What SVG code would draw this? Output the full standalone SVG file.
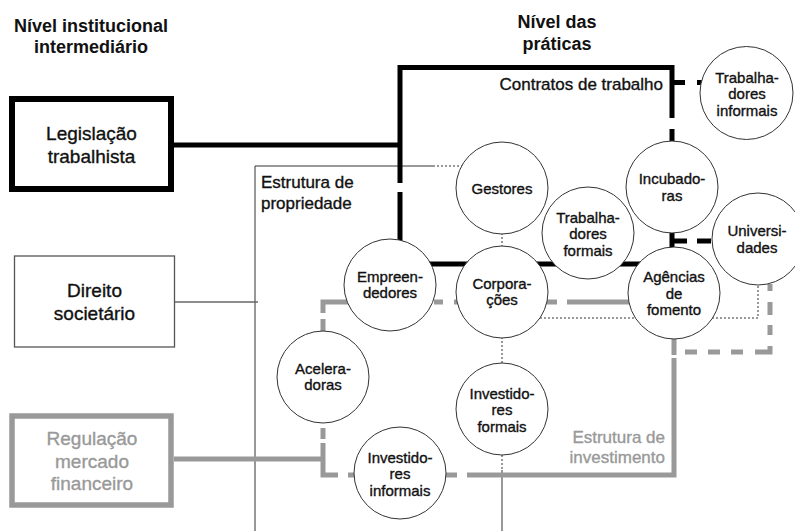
<svg xmlns="http://www.w3.org/2000/svg" width="795" height="531" viewBox="0 0 795 531">
<style>
text{font-family:"Liberation Sans",Arial,sans-serif;fill:#111;stroke:#111;stroke-width:0.35}
.h{font-weight:bold;font-size:18px;text-anchor:middle;stroke-width:0}
.bl{font-size:19px;text-anchor:middle}
.lab{font-size:17px}
.c{font-size:15px;text-anchor:middle}
.g{fill:#999;stroke:#999}
.node circle{fill:#fff;stroke:#333;stroke-width:1}
.blk{fill:none;stroke:#000;stroke-width:5;stroke-linejoin:miter}
.gry{fill:none;stroke:#999;stroke-width:5;stroke-linejoin:miter}
.thin{fill:none;stroke:#333;stroke-width:1}
.dot{fill:none;stroke:#333;stroke-width:1;stroke-dasharray:2 2}
</style>
<rect width="795" height="531" fill="#fff"/>
<g id="headers">
<text class="h" x="91" y="32">Nível institucional</text>
<text class="h" x="91" y="53">intermediário</text>
<text class="h" x="557" y="28">Nível das</text>
<text class="h" x="557" y="50">práticas</text>
</g>
<g id="connectors">
<path class="thin" d="M255,531 V166 H433"/>
<path class="dot" d="M433,166 H462"/>
<path d="M175,302 H258" fill="none" stroke="#666" stroke-width="1.4"/>
<path class="dot" d="M502,233 V247 M502,337 V363 M502,455 V470 M540,318 H758 V284"/>
<path class="thin" d="M502,470 V531"/>
<path class="blk" d="M174,145 H400"/>
<path class="blk" d="M400,183 V67.5 H672 V118"/>
<path class="blk" d="M672,129 V141"/>
<path class="blk" d="M672,82.5 H685 M697,82.5 H702"/>
<path class="blk" d="M400,192 V264 H672"/>
<path class="blk" d="M672,232 V248"/>
<path class="blk" d="M672,241 H687 M697,241 H711"/>
<path class="gry" d="M174,459 H323"/>
<path class="gry" d="M323,428 V439"/>
<path class="gry" d="M323,443 V475 H338"/>
<path class="gry" d="M348,475 H355"/>
<path class="gry" d="M348,302 H323 V313"/>
<path class="gry" d="M323,319 V332"/>
<path class="gry" d="M434,302 H443 M454,302 H557 M567,302 H630"/>
<path class="gry" d="M446,475 H457"/>
<path class="gry" d="M467,475 H674 V358"/>
<path class="gry" d="M674,338 V355"/>
<path class="gry" d="M770,284 V291 M770,302 V315 M770,325 V335 M770,346 V354.5 M772.5,352 H755 M743,352 H731 M720,352 H708 M697,352 H685"/>
</g>
<g id="box-legislacao">
<rect x="12" y="99" width="159" height="90" fill="#fff" stroke="#000" stroke-width="6"/>
<text class="bl" x="91.5" y="140">Legislação</text>
<text class="bl" x="91.5" y="163">trabalhista</text>
</g>
<g id="box-direito">
<rect x="14.5" y="256" width="160" height="91" fill="#fff" stroke="#555" stroke-width="1.3"/>
<text class="bl" x="94.5" y="297">Direito</text>
<text class="bl" x="94.5" y="320">societário</text>
</g>
<g id="box-regulacao">
<rect x="12" y="416" width="159" height="89" fill="#fff" stroke="#999" stroke-width="5.5"/>
<text class="bl g" x="92" y="445">Regulação</text>
<text class="bl g" x="92" y="468">mercado</text>
<text class="bl g" x="92" y="490">financeiro</text>
</g>
<g id="labels">
<text class="lab" x="663" y="90" text-anchor="end">Contratos de trabalho</text>
<text class="lab" x="261" y="188">Estrutura de</text>
<text class="lab" x="261" y="209">propriedade</text>
<text class="lab g" x="665" y="443" text-anchor="end">Estrutura de</text>
<text class="lab g" x="665" y="463" text-anchor="end">investimento</text>
</g>
<g id="gestores" class="node"><circle cx="502" cy="188" r="46"/><text class="c" x="502" y="193.5">Gestores</text></g>
<g id="trabalhadores-formais" class="node"><circle cx="588" cy="233" r="46"/><text class="c" x="588" y="222.5">Trabalha-</text><text class="c" x="588" y="239">dores</text><text class="c" x="588" y="255.5">formais</text></g>
<g id="incubadoras" class="node"><circle cx="672" cy="187" r="46"/><text class="c" x="672" y="184">Incubado-</text><text class="c" x="672" y="200.5">ras</text></g>
<g id="trabalhadores-informais" class="node"><circle cx="746.5" cy="93" r="46.5"/><text class="c" x="747" y="82.5">Trabalha-</text><text class="c" x="747" y="99">dores</text><text class="c" x="747" y="115.5">informais</text></g>
<g id="universidades" class="node"><circle cx="758" cy="239" r="46"/><text class="c" x="757" y="236">Universi-</text><text class="c" x="757" y="252.5">dades</text></g>
<g id="agencias" class="node"><circle cx="674" cy="293" r="46"/><text class="c" x="674" y="282">Agências</text><text class="c" x="674" y="298.5">de</text><text class="c" x="674" y="315">fomento</text></g>
<g id="corporacoes" class="node"><circle cx="502" cy="292" r="46"/><text class="c" x="502" y="288.5">Corpora-</text><text class="c" x="502" y="305">ções</text></g>
<g id="empreendedores" class="node"><circle cx="390" cy="285" r="46"/><text class="c" x="390" y="281.5">Empreen-</text><text class="c" x="390" y="298">dedores</text></g>
<g id="aceleradoras" class="node"><circle cx="323" cy="377" r="46"/><text class="c" x="323" y="373.5">Acelera-</text><text class="c" x="323" y="390">doras</text></g>
<g id="investidores-informais" class="node"><circle cx="400" cy="473" r="46"/><text class="c" x="400" y="462.5">Investido-</text><text class="c" x="400" y="479">res</text><text class="c" x="400" y="495.5">informais</text></g>
<g id="investidores-formais" class="node"><circle cx="502" cy="409" r="46"/><text class="c" x="502" y="398.5">Investido-</text><text class="c" x="502" y="415">res</text><text class="c" x="502" y="431.5">formais</text></g>
</svg>
